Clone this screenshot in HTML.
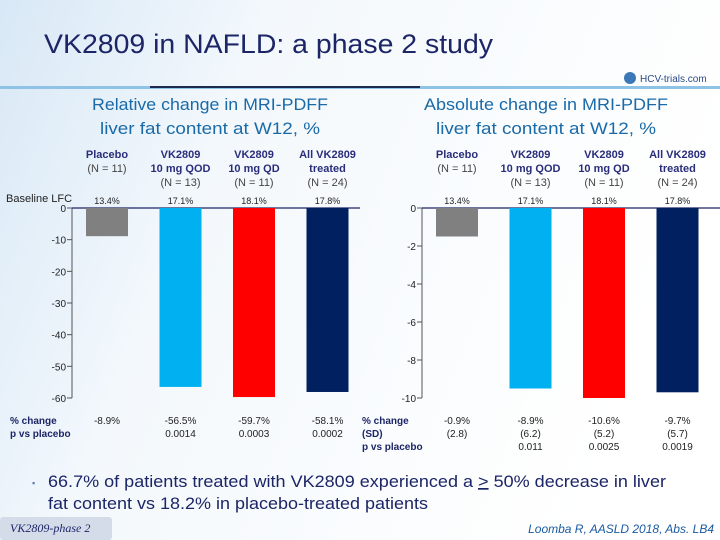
<!DOCTYPE html>
<html><head><meta charset="utf-8"><style>
body{margin:0;width:720px;height:540px;overflow:hidden;font-family:"Liberation Sans",sans-serif;}
svg{display:block}
</style></head><body>
<svg id="s" width="720" height="540" viewBox="0 0 720 540" xmlns="http://www.w3.org/2000/svg">
<defs><linearGradient id="bg" x1="0" y1="0" x2="1" y2="0.3"><stop offset="0" stop-color="#d8e8f6"/><stop offset="0.35" stop-color="#f3f8fc"/><stop offset="1" stop-color="#ffffff"/></linearGradient></defs>
<rect width="720" height="540" fill="url(#bg)"/>
<text x="44" y="53" font-size="27" fill="#1c2566" textLength="449" lengthAdjust="spacingAndGlyphs">VK2809 in NAFLD: a phase 2 study</text>
<rect x="0" y="86" width="720" height="3" fill="#8fc3e6"/>
<rect x="150" y="86" width="270" height="2" fill="#1c2a50"/>
<g><circle cx="630" cy="78" r="6" fill="#3a78b8"/><text x="640" y="82" font-size="10" fill="#2a4a8a">HCV-trials.com</text></g>
<g font-size="17" fill="#1a6aa8" text-anchor="middle">
<text><tspan x="210" y="110" textLength="236" lengthAdjust="spacingAndGlyphs">Relative change in MRI-PDFF</tspan><tspan x="210" y="134" textLength="220" lengthAdjust="spacingAndGlyphs">liver fat content at W12, %</tspan></text>
<text><tspan x="546" y="110" textLength="244" lengthAdjust="spacingAndGlyphs">Absolute change in MRI-PDFF</tspan><tspan x="546" y="134" textLength="220" lengthAdjust="spacingAndGlyphs">liver fat content at W12, %</tspan></text>
</g>
<g id="charts"></g>
<text x="32" y="486" font-size="9" fill="#5a7fb0">▪</text>
<text x="48" y="487" font-size="17" fill="#1c2566" textLength="618" lengthAdjust="spacingAndGlyphs">66.7% of patients treated with VK2809 experienced a <tspan text-decoration="underline">&gt;</tspan> 50% decrease in liver</text>
<text x="48" y="509" font-size="17" fill="#1c2566" textLength="380" lengthAdjust="spacingAndGlyphs">fat content vs 18.2% in placebo-treated patients</text>
<rect x="0" y="517" width="112" height="23" rx="3" fill="#d4dcea"/>
<text x="10" y="532" font-family="Liberation Serif, serif" font-style="italic" font-size="12" fill="#1c2566">VK2809-phase 2</text>
<text x="714" y="533" text-anchor="end" font-style="italic" font-size="12" fill="#1a5aa0">Loomba R, AASLD 2018, Abs. LB4</text>
</svg>
<script>
const groups=[["Placebo","(N = 11)"],["VK2809","10 mg QOD","(N = 13)"],["VK2809","10 mg QD","(N = 11)"],["All VK2809","treated","(N = 24)"]];
const baseline=["13.4%","17.1%","18.1%","17.8%"];
const relValues=[-8.9,-56.5,-59.7,-58.1];
const relTicks=[0,-10,-20,-30,-40,-50,-60];
const relLabels=[["-8.9%"],["-56.5%","0.0014"],["-59.7%","0.0003"],["-58.1%","0.0002"]];
const absValues=[-1.5,-9.5,-10,-9.7];
const absTicks=[0,-2,-4,-6,-8,-10];
const absLabels=[["-0.9%","(2.8)"],["-8.9%","(6.2)","0.011"],["-10.6%","(5.2)","0.0025"],["-9.7%","(5.7)","0.0019"]];
const colors=["#808080","#00b0f0","#ff0000","#002060"];
const NS="http://www.w3.org/2000/svg";
const root=document.getElementById("charts");
function mk(tag,at,parent,txt){const e=document.createElementNS(NS,tag);for(const k in at)e.setAttribute(k,at[k]);if(txt!==undefined)e.textContent=txt;(parent||root).appendChild(e);return e;}
function chart(id,axisX,lineEnd,minV,values,ticks,labels,rowLabels,firstBarX){
  const g=mk("g",{});
  
  
  const y0=208,y1=398;
  const y=v=>y0+(v/minV)*(y1-y0);
  const x=i=>firstBarX+i*73.5;
  const bw=42;
  const ax=mk("line",{x1:axisX,y1:y0,x2:axisX,y2:y1,stroke:"#555",'stroke-width':1},g);
  
  
  const zl=mk("line",{x1:axisX,y1:y0,x2:lineEnd,y2:y0,stroke:"#1c2566",'stroke-width':1.3},g);
  
  
  ticks.forEach(t=>{
    const tk=mk("line",{x1:axisX-5,y1:y(t),x2:axisX,y2:y(t),stroke:"#555"},g);
    
    
    const tl=mk("text",{x:axisX-6,y:y(t)+4,'text-anchor':'end','font-size':10,fill:'#222'},g,String(t));
    
    
  });
  values.forEach((v,i)=>{
    const b=mk("rect",{x:x(i),y:y0,width:bw,height:y(v)-y0,fill:colors[i]},g);
    
    
    const cx=x(i)+bw/2;
    groups[i].forEach((s,j)=>{
      const isN=s.startsWith("(");
      const t=mk("text",{x:cx,y:158+j*14,'text-anchor':'middle','font-size':11,'font-weight':isN?'normal':'bold',fill:isN?'#444':'#2a2e7a'},g,s);
      
      
    });
    const bl=mk("text",{x:cx,y:204,'text-anchor':'middle','font-size':9,fill:'#222'},g,baseline[i]);
    
    
    labels[i].forEach((s,j)=>{
      const t=mk("text",{x:cx,y:424+j*13,'text-anchor':'middle','font-size':10,fill:'#222'},g,s);
      
      
    });
  });
  rowLabels.forEach((s,j)=>{
    const t=mk("text",{x:rowLabels.x,y:424+j*13,'font-size':10,'font-weight':'bold',fill:'#1c2566'},g,s);
    
    
  });
}
const lr=["% change","p vs placebo"];lr.x=10;
const rr=["% change","(SD)","p vs placebo"];rr.x=362;
chart("relative-change-chart",72,360,-60,relValues,relTicks,relLabels,lr,86);
chart("absolute-change-chart",422,720,-10,absValues,absTicks,absLabels,rr,436);
const bt=document.createElementNS(NS,"text");
bt.setAttribute('x',6);bt.setAttribute('y',202);bt.setAttribute('font-size',11);bt.setAttribute('fill','#222');
bt.textContent="Baseline LFC";


root.appendChild(bt);
</script>
</body></html>
